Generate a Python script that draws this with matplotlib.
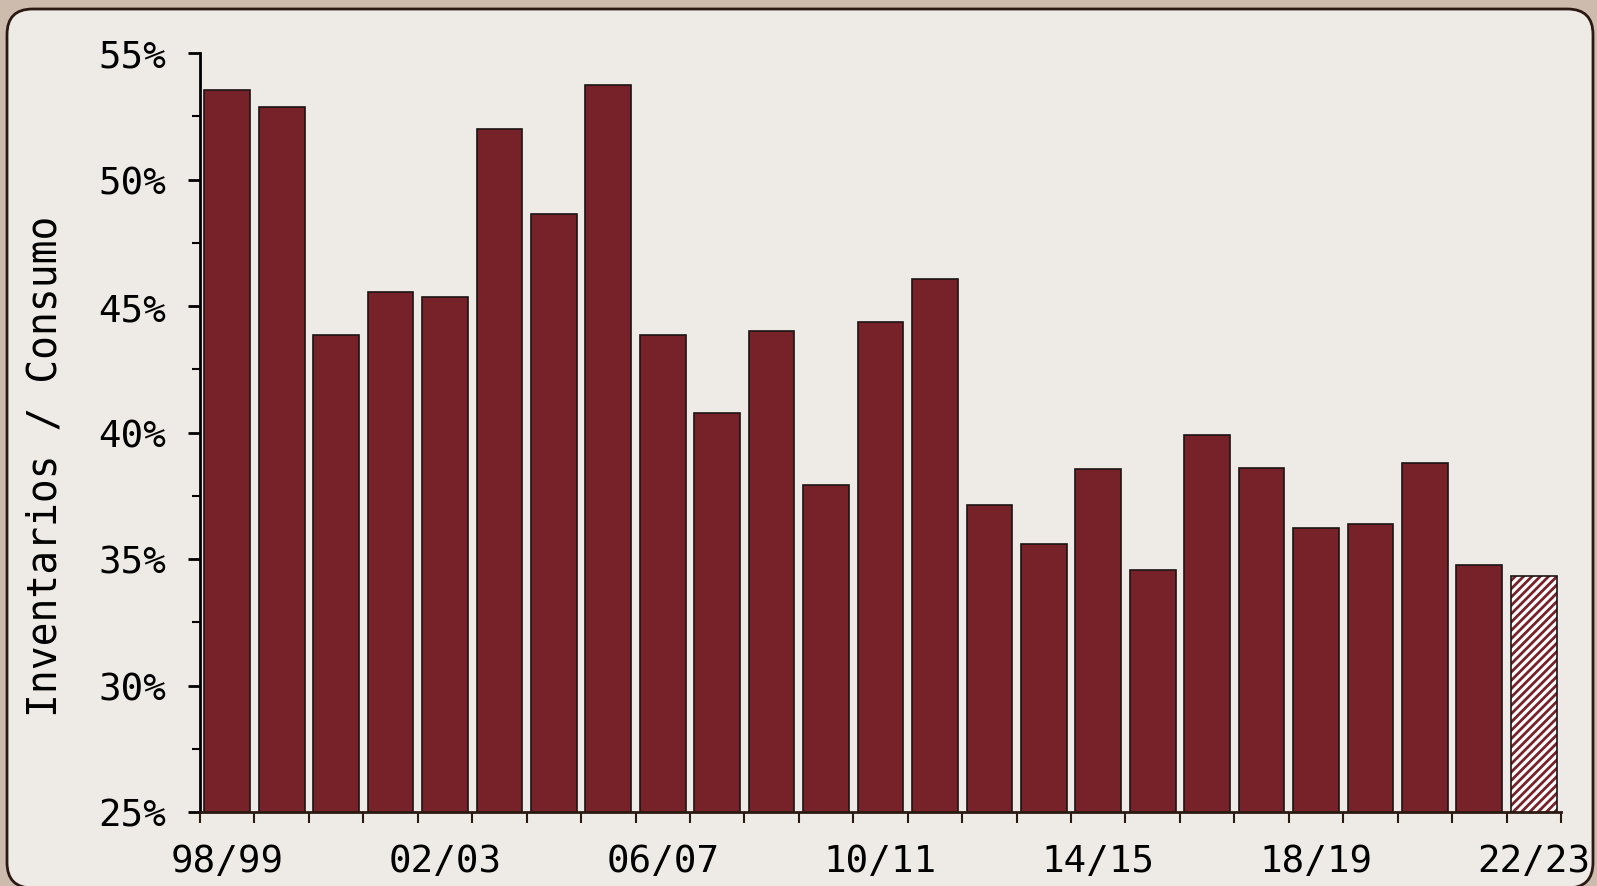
import matplotlib
matplotlib.use("Agg")
import matplotlib.pyplot as plt
from matplotlib.patches import FancyBboxPatch
from matplotlib.ticker import FixedLocator, MultipleLocator, FuncFormatter
import numpy as np

# campaigns 98/99 .. 22/23
seasons = ["98/99", "99/00", "00/01", "01/02", "02/03", "03/04", "04/05",
           "05/06", "06/07", "07/08", "08/09", "09/10", "10/11", "11/12",
           "12/13", "13/14", "14/15", "15/16", "16/17", "17/18", "18/19",
           "19/20", "20/21", "21/22", "22/23"]
ratio = [53.55, 52.86, 43.87, 45.56, 45.36, 51.98, 48.63, 53.75, 43.87,
         40.77, 44.03, 37.94, 44.35, 46.05, 37.14, 35.60, 38.55, 34.56,
         39.92, 38.59, 36.21, 36.37, 38.79, 34.76, 34.31]
labelled = ["98/99", "02/03", "06/07", "10/11", "14/15", "18/19", "22/23"]

BAR = '#772228'
EDGE = '#1c1414'
PANEL = '#eeeae6'
OUTER = '#cdbcae'
FONT = 'DejaVu Sans Mono'

plt.rcParams['hatch.linewidth'] = 2.0

fig = plt.figure(figsize=(15.97, 8.87), dpi=100)
fig.patch.set_facecolor(OUTER)

# rounded panel behind the chart
panel = FancyBboxPatch((7/1597, -2/887), 1586/1597, 879/887,
                       boxstyle="round,pad=0,rounding_size=0.016",
                       transform=fig.transFigure, facecolor=PANEL,
                       edgecolor='#2b1a12', linewidth=2,
                       mutation_aspect=1597/887, zorder=-10)
fig.patches.append(panel)

ax = fig.add_axes([200/1597, 1 - 813/887, 1361/1597, 759/887])
ax.set_facecolor('none')

x = np.arange(len(seasons))
solid = ratio[:-1]
ax.bar(x[:-1], solid, width=0.84, color=BAR, edgecolor=EDGE,
       linewidth=1.2, zorder=2)
# last (estimated) season: hatched
ax.bar(x[-1], ratio[-1], width=0.84, color='white', edgecolor=BAR,
       hatch='////', linewidth=0, zorder=2)
ax.bar(x[-1], ratio[-1], width=0.84, color='none', edgecolor=EDGE,
       linewidth=1.2, zorder=3)

ax.set_ylim(25, 55)
ax.set_xlim(-0.5, len(seasons) - 0.5)

for s in ['top', 'right']:
    ax.spines[s].set_visible(False)
ax.spines['left'].set_linewidth(2)
ax.spines['bottom'].set_linewidth(2)
ax.spines['left'].set_color('black')
ax.spines['bottom'].set_color('#2a1a12')

ax.yaxis.set_major_locator(MultipleLocator(5))
ax.yaxis.set_minor_locator(MultipleLocator(2.5))
ax.yaxis.set_major_formatter(FuncFormatter(lambda v, p: f"{v:.0f}%"))
ax.tick_params(axis='y', which='major', length=8.4, width=2, pad=16,
               labelsize=27, color='black')
ax.tick_params(axis='y', which='minor', length=6, width=1.5, color='black')

# labels at bar centres, tick marks at bar boundaries
lab_pos = [seasons.index(s) for s in labelled]
ax.xaxis.set_major_locator(FixedLocator(lab_pos))
ax.set_xticklabels(labelled)
ax.xaxis.set_minor_locator(FixedLocator(np.arange(len(seasons) + 1) - 0.5))
ax.tick_params(axis='x', which='major', length=0, pad=22, labelsize=27)
ax.tick_params(axis='x', which='minor', length=7.7, width=1.5, color='#2a1a12')

for lab in ax.get_xticklabels() + ax.get_yticklabels():
    lab.set_fontfamily(FONT)

fig.text(46/1597, 1 - 466/887, "Inventarios / Consumo", rotation=90,
         ha='center', va='center', fontsize=28.5, family=FONT)

fig.savefig("out.png", dpi=100, facecolor=fig.get_facecolor())
